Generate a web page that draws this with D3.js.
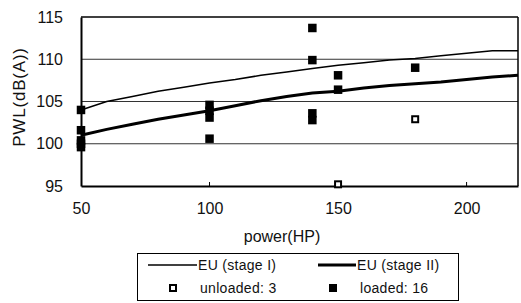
<!DOCTYPE html>
<html><head><meta charset="utf-8">
<script src="https://cdn.jsdelivr.net/npm/d3@7"></script>
<style>html,body{margin:0;padding:0;background:#fff;}svg{display:block;}</style>
</head><body>
<script>
// data
const limitHP = [50,60,70,80,90,100,110,120,130,140,150,160,170,180,190,200,210,220];
const stageI  = [104.0,105.0,105.6,106.2,106.7,107.2,107.6,108.1,108.5,108.9,109.3,109.6,109.9,110.1,110.4,110.7,111.0,111.0];
const stageII = [101.0,101.7,102.3,102.9,103.4,103.9,104.5,105.1,105.6,106.0,106.2,106.6,106.9,107.1,107.3,107.6,107.9,108.1];
const loadedHP = [50,50,50,50,50,100,100,100,100,140,140,140,140,150,150,180];
const loadedDB = [104.0,101.6,100.4,100.0,99.6,104.6,103.9,103.1,100.6,113.7,109.9,103.6,102.8,108.1,106.4,109.0];
const unloadedHP = [150,180];
const unloadedDB = [95.2,102.9];
const yTicks = [95,100,105,110,115];
const xTicks = [50,100,150,200];
const legendLabels = ["EU (stage I)","EU (stage II)","unloaded: 3","loaded: 16"];

const W=521,H=303;
const m={l:81,r:3,t:17,b:117};
const svg=d3.select("body").append("svg").attr("width",W).attr("height",H);
const x=d3.scaleLinear().domain([50,220]).range([m.l,W-m.r]);
const y=d3.scaleLinear().domain([95,115]).range([H-m.b,m.t]);
const font="'Liberation Sans', Arial, sans-serif";

// gridlines
svg.append("g").selectAll("line").data([100,105,110]).join("line")
  .attr("x1",x(50)).attr("x2",x(220)).attr("y1",d=>y(d)).attr("y2",d=>y(d))
  .attr("stroke","#333").attr("stroke-width",1);
// frame top/right
svg.append("line").attr("x1",x(50)).attr("x2",x(220)).attr("y1",y(115)).attr("y2",y(115)).attr("stroke","#000").attr("stroke-width",1.5);
svg.append("line").attr("x1",x(220)).attr("x2",x(220)).attr("y1",y(115)).attr("y2",y(95)).attr("stroke","#000").attr("stroke-width",1.5);

// axes
const yAxis=d3.axisLeft(y).tickValues(yTicks).tickSize(0).tickPadding(18).tickFormat(d3.format("d"));
const gy=svg.append("g").attr("transform",`translate(${m.l},0)`).call(yAxis);
gy.select(".domain").attr("stroke","#000").attr("stroke-width",2);
gy.selectAll("text").attr("font-family",font).attr("font-size",16).attr("fill","#111");
const xAxis=d3.axisBottom(x).tickValues(xTicks).tickSize(0).tickPadding(17).tickFormat(d3.format("d"));
const gx=svg.append("g").attr("transform",`translate(0,${y(95)})`).call(xAxis);
gx.select(".domain").attr("stroke","#000").attr("stroke-width",2);
gx.selectAll("text").attr("font-family",font).attr("font-size",16).attr("fill","#111");
// small inner ticks
svg.append("g").selectAll("line").data(xTicks.slice(1)).join("line")
  .attr("x1",d=>x(d)).attr("x2",d=>x(d)).attr("y1",y(95)).attr("y2",y(95)-4).attr("stroke","#000");

// axis titles
svg.append("text").attr("x",282).attr("y",242).attr("text-anchor","middle")
  .attr("font-family",font).attr("font-size",16).attr("fill","#111").text("power(HP)");
svg.append("text").attr("transform",`translate(25,97) rotate(-90)`).attr("text-anchor","middle")
  .attr("font-family",font).attr("font-size",17).attr("letter-spacing",0.8).attr("fill","#111").text("PWL(dB(A))");

// lines
const line=d3.line().x((d,i)=>x(limitHP[i])).y(d=>y(d));
svg.append("path").attr("d",line(stageI)).attr("fill","none").attr("stroke","#000").attr("stroke-width",1.5);
svg.append("path").attr("d",line(stageII)).attr("fill","none").attr("stroke","#000").attr("stroke-width",3);

// points
const s=8.5;
svg.append("g").selectAll("rect").data(loadedDB).join("rect")
  .attr("x",(d,i)=>x(loadedHP[i])-s/2).attr("y",d=>y(d)-s/2).attr("width",s).attr("height",s).attr("fill","#000");
const s2=6;
svg.append("g").selectAll("rect").data(unloadedDB).join("rect")
  .attr("x",(d,i)=>x(unloadedHP[i])-s2/2).attr("y",d=>y(d)-s2/2).attr("width",s2).attr("height",s2)
  .attr("fill","#fff").attr("stroke","#000").attr("stroke-width",2);

// legend
const lg=svg.append("g");
lg.append("rect").attr("x",137.5).attr("y",253.5).attr("width",321).attr("height",47).attr("fill","#fff").attr("stroke","#000").attr("stroke-width",1);
lg.append("line").attr("x1",148).attr("x2",197).attr("y1",265).attr("y2",265).attr("stroke","#000").attr("stroke-width",1.5);
lg.append("line").attr("x1",318).attr("x2",356).attr("y1",265).attr("y2",265).attr("stroke","#000").attr("stroke-width",3);
lg.append("rect").attr("x",170).attr("y",285).attr("width",6).attr("height",6).attr("fill","#fff").attr("stroke","#000").attr("stroke-width",2);
lg.append("rect").attr("x",329).attr("y",284).attr("width",8).attr("height",8).attr("fill","#000");
const lt=[[198,270],[357,270],[200,292.5],[360,292.5]];
lg.selectAll("text").data(legendLabels).join("text")
  .attr("x",(d,i)=>lt[i][0]).attr("y",(d,i)=>lt[i][1])
  .attr("font-family",font).attr("font-size",14).attr("letter-spacing",0.3).attr("fill","#111").text(d=>d);
</script>
</body></html>
